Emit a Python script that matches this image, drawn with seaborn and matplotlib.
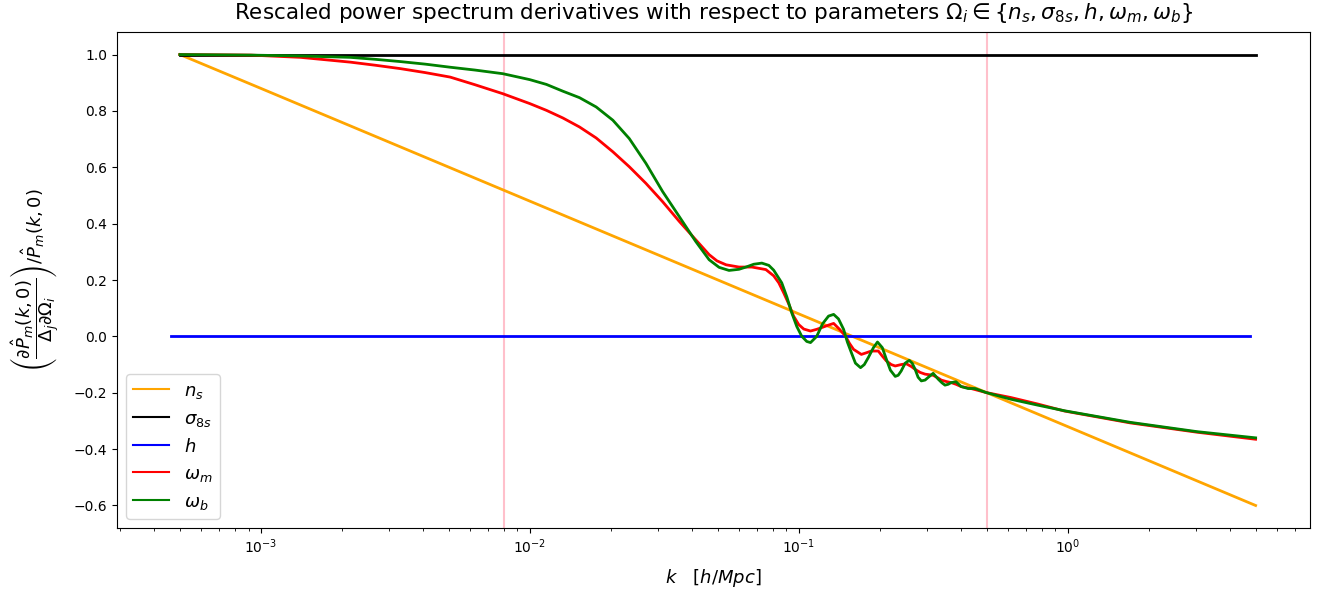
import numpy as np
import pandas as pd
import matplotlib
matplotlib.use("Agg")
import matplotlib.pyplot as plt
import seaborn as sns

# ---- data (log10 k and rescaled derivative values) ----
ns_logk = [-3.301, -3.0, -2.0, -1.0, 0.0, 0.699]
ns_val = [1.0, 0.88, 0.48, 0.08, -0.32, -0.60]

s8_logk = [-3.301, 0.699]
s8_val = [1.0, 1.0]

h_logk = [-3.333, 0.678]
h_val = [0.0, 0.0]

wm_logk = [-3.301, -3.037, -2.852, -2.667, -2.574, -2.481, -2.389, -2.296, -2.204, -2.100,
           -2.000, -1.938, -1.877, -1.815, -1.753, -1.691, -1.630, -1.568, -1.506, -1.444,
           -1.383, -1.333, -1.304, -1.270, -1.222, -1.174, -1.122,
           -1.093, -1.074, -1.056, -1.037, -1.019, -1.000, -0.981, -0.956, -0.933, -0.915,
           -0.889, -0.870, -0.848, -0.826, -0.811, -0.796, -0.767, -0.748, -0.730, -0.704,
           -0.689, -0.674, -0.656, -0.641, -0.619, -0.600, -0.581, -0.567, -0.548, -0.530,
           -0.500, -0.481, -0.470, -0.452, -0.433, -0.415, -0.396, -0.359, -0.304, -0.211,
           -0.111, -0.011, 0.233, 0.481, 0.699]
wm_val = [1.0, 0.998, 0.99, 0.973, 0.962, 0.95, 0.936, 0.92, 0.893, 0.861,
          0.826, 0.802, 0.775, 0.743, 0.704, 0.655, 0.602, 0.543, 0.478, 0.408,
          0.343, 0.29, 0.268, 0.254, 0.246, 0.246, 0.237,
          0.215, 0.19, 0.155, 0.115, 0.072, 0.042, 0.026, 0.019, 0.025, 0.031,
          0.04, 0.046, 0.025, 0.001, -0.025, -0.046, -0.064, -0.058, -0.052, -0.052,
          -0.07, -0.087, -0.1, -0.105, -0.1, -0.097, -0.107, -0.117, -0.128, -0.134,
          -0.138, -0.148, -0.155, -0.16, -0.164, -0.17, -0.178, -0.185, -0.199, -0.217,
          -0.24, -0.265, -0.307, -0.34, -0.365]

wb_logk = [-3.301, -3.037, -2.852, -2.667, -2.574, -2.481, -2.389, -2.296, -2.204, -2.100,
           -2.000, -1.938, -1.877, -1.815, -1.753, -1.691, -1.630, -1.568, -1.506, -1.444,
           -1.383, -1.333, -1.296, -1.259, -1.222,
           -1.196, -1.167, -1.137, -1.111, -1.093, -1.063, -1.044, -1.026, -1.007, -0.989,
           -0.970, -0.956, -0.933, -0.911, -0.889, -0.870, -0.852, -0.833, -0.819, -0.804,
           -0.789, -0.770, -0.756, -0.741, -0.722, -0.707, -0.689, -0.674, -0.659, -0.641,
           -0.630, -0.619, -0.604, -0.589, -0.578, -0.567, -0.556, -0.544, -0.530, -0.519,
           -0.500, -0.481, -0.467, -0.456, -0.444, -0.433, -0.415, -0.396, -0.370, -0.344,
           -0.304, -0.211, -0.111, -0.011, 0.233, 0.481, 0.699]
wb_val = [1.0, 0.998, 0.995, 0.99, 0.983, 0.975, 0.966, 0.955, 0.945, 0.932,
          0.911, 0.894, 0.870, 0.847, 0.814, 0.767, 0.702, 0.614, 0.514, 0.425,
          0.337, 0.272, 0.245, 0.234, 0.238,
          0.246, 0.256, 0.26, 0.252, 0.235, 0.19, 0.14, 0.084, 0.035, 0.001,
          -0.018, -0.022, 0.0, 0.045, 0.072, 0.078, 0.062, 0.025, -0.02, -0.058,
          -0.095, -0.111, -0.1, -0.075, -0.04, -0.02, -0.04, -0.081, -0.12, -0.142,
          -0.138, -0.123, -0.095, -0.085, -0.095, -0.117, -0.145, -0.158, -0.155, -0.146,
          -0.131, -0.152, -0.165, -0.173, -0.17, -0.164, -0.161, -0.178, -0.185, -0.185,
          -0.199, -0.223, -0.244, -0.264, -0.305, -0.338, -0.36]

vlines_k = [0.008, 0.5]

series = [
    (r"$n_s$", ns_logk, ns_val, "orange"),
    (r"$\sigma_{8s}$", s8_logk, s8_val, "black"),
    (r"$h$", h_logk, h_val, "blue"),
    (r"$\omega_m$", wm_logk, wm_val, "red"),
    (r"$\omega_b$", wb_logk, wb_val, "green"),
]

fig = plt.figure(figsize=(13.18, 5.98), dpi=100)
ax = fig.add_axes([0.0888, 0.117, 0.905, 0.8295])

for xv in vlines_k:
    ax.axvline(xv, color="pink", lw=1.5, zorder=1)

for name, lk, v, c in series:
    df = pd.DataFrame({"k": 10 ** np.asarray(lk), "val": v})
    sns.lineplot(data=df, x="k", y="val", color=c, lw=2, label=name,
                 estimator=None, sort=False, ax=ax, zorder=2)

ax.set_xscale("log")
ax.set_title(r"Rescaled power spectrum derivatives with respect to parameters "
             r"$\Omega_i \in \{n_s, \sigma_{8s}, h, \omega_m, \omega_b\}$", fontsize=15.5, pad=9)
ax.set_xlabel(r"$k \quad [h/Mpc]$", fontsize=13, labelpad=8)
ax.set_ylabel(r"$\left(\dfrac{\partial \hat{P}_m(k,0)}{\Delta_j \partial \Omega_i}\right) / \hat{P}_m(k,0)$",
              fontsize=13, labelpad=9)
leg = ax.legend(loc="lower left", fontsize=13)
for hl in leg.get_lines():
    hl.set_linewidth(1.5)

fig.savefig("out.png", dpi=100)
